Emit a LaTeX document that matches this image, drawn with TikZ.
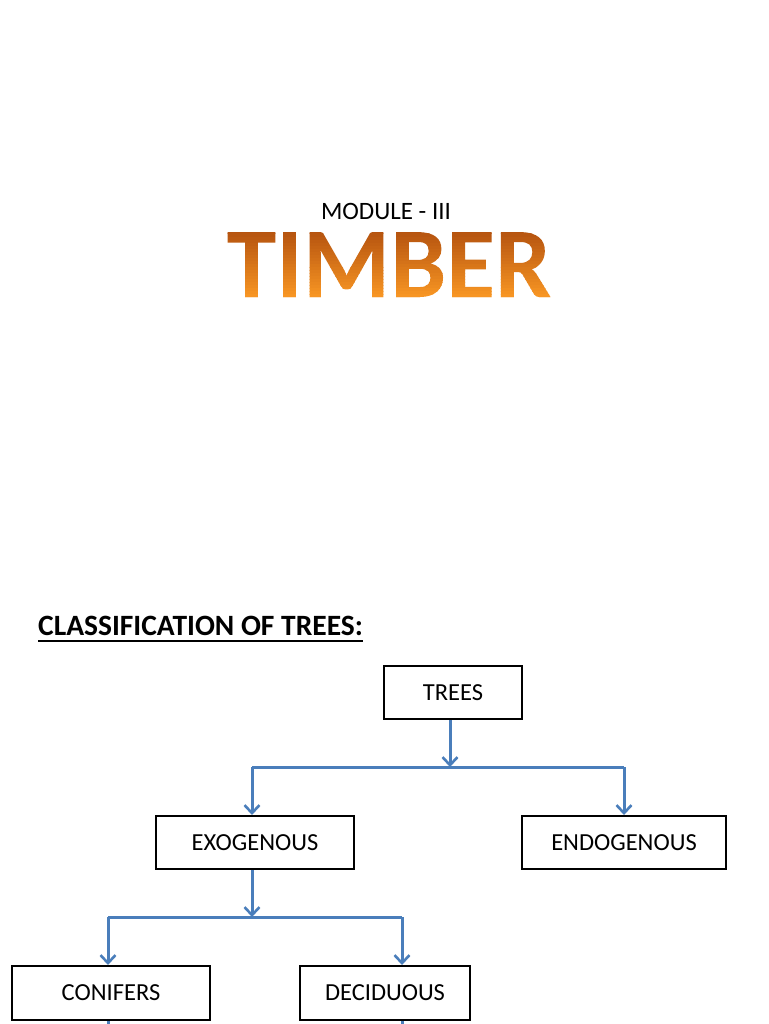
\documentclass[tikz,border=0pt]{standalone}
\usepackage{fontspec}
\setmainfont{Carlito}
\usetikzlibrary{arrows.meta}
\definecolor{linkblue}{RGB}{74,126,187}
\makeatletter
\newcount\gtcnt
\newcommand\gradtext[1]{%
  \setbox0=\hbox{#1}%
  \dimen@=\wd0 \edef\gtw{\strip@pt\dimen@}%
  \dimen@=\ht0 \edef\gth{\strip@pt\dimen@}%
  \gdef\gtrects{}%
  \gtcnt=0
  \loop
    \pgfmathsetmacro\gtt{\the\gtcnt/23}%
    \pgfmathsetmacro\gtr{(178+72*\gtt)/255}%
    \pgfmathsetmacro\gtg{(80+72*\gtt)/255}%
    \pgfmathsetmacro\gtb{(14+22*\gtt)/255}%
    \pgfmathsetmacro\gty{\gth+4-(\the\gtcnt+1)*(\gth+8)/24}%
    \pgfmathsetmacro\gtbh{(\gth+8)/24+0.5}%
    \pgfmathsetmacro\gtww{\gtw+8}%
    \xdef\gtrects{\gtrects\space\gtr\space\gtg\space\gtb\space rg -4\space\gty\space\gtww\space\gtbh\space re f}%
    \advance\gtcnt by 1
  \ifnum\gtcnt<24 \repeat
  \special{pdf:literal q 7 Tr}\copy0\kern-\wd0\special{pdf:literal 0 Tr\gtrects\space Q}\kern\wd0
}
\makeatother
\tikzset{
  box/.style={draw=black, line width=2pt, inner sep=0pt, minimum height=53pt, font=\fontsize{24.5}{29}\selectfont, fill=white},
  conn/.style={draw=linkblue, line width=3pt},
  arr/.style={conn, -{Straight Barb[length=8pt,width=15pt,line width=2.6pt]}},
  timber/.style={anchor=base, inner sep=0pt, font=\fontsize{100}{110}\selectfont\bfseries}
}
\begin{document}
\begin{tikzpicture}[x=1pt,y=-1pt]
\useasboundingbox[fill=white] (0,0) rectangle (768,1024);
% title
\node[anchor=base, inner sep=0pt, font=\fontsize{25}{30}\selectfont] (module) at (386,219) {MODULE - III};
\node[timber] (timber) at (389,297) {\gradtext{TIMBER}};
% heading
\node[anchor=base west, inner sep=0pt, font=\fontsize{29.5}{34}\selectfont\bfseries] (cls) at (38,635) {CLASSIFICATION OF TREES:};
\draw[line width=2.2pt] ([yshift=-6pt]cls.base west) -- ([yshift=-6pt]cls.base east);
% boxes
\node[box, minimum width=138pt] (trees) at (453,692.5) {TREES};
\node[box, minimum width=198pt] (exo) at (255,842.5) {EXOGENOUS};
\node[box, minimum width=204pt] (endo) at (624,842.5) {ENDOGENOUS};
\node[box, minimum width=198pt, minimum height=54pt] (conif) at (111,993) {CONIFERS};
\node[box, minimum width=170pt, minimum height=54pt] (decid) at (385,993) {DECIDUOUS};
% connectors
\coordinate (j1) at (450,767);
\coordinate (a1) at (252,767);
\coordinate (b1) at (624,767);
\draw[arr] (trees.south -| j1) -- (j1);
\draw[conn] (a1) -- (b1);
\draw[arr] (a1) -- (a1 |- exo.north);
\draw[arr] (b1) -- (b1 |- endo.north);
\coordinate (j2) at (252,917);
\coordinate (a2) at (108,917);
\coordinate (b2) at (402,917);
\draw[arr] (exo.south -| j2) -- (j2);
\draw[conn] (a2) -- (b2);
\draw[arr] (a2) -- (a2 |- conif.north);
\draw[arr] (b2) -- (b2 |- decid.north);
\coordinate (e1) at (108,1026);
\coordinate (e2) at (402,1026);
\draw[conn] (conif.south -| e1) -- (e1);
\draw[conn] (decid.south -| e2) -- (e2);
\end{tikzpicture}
\end{document}
